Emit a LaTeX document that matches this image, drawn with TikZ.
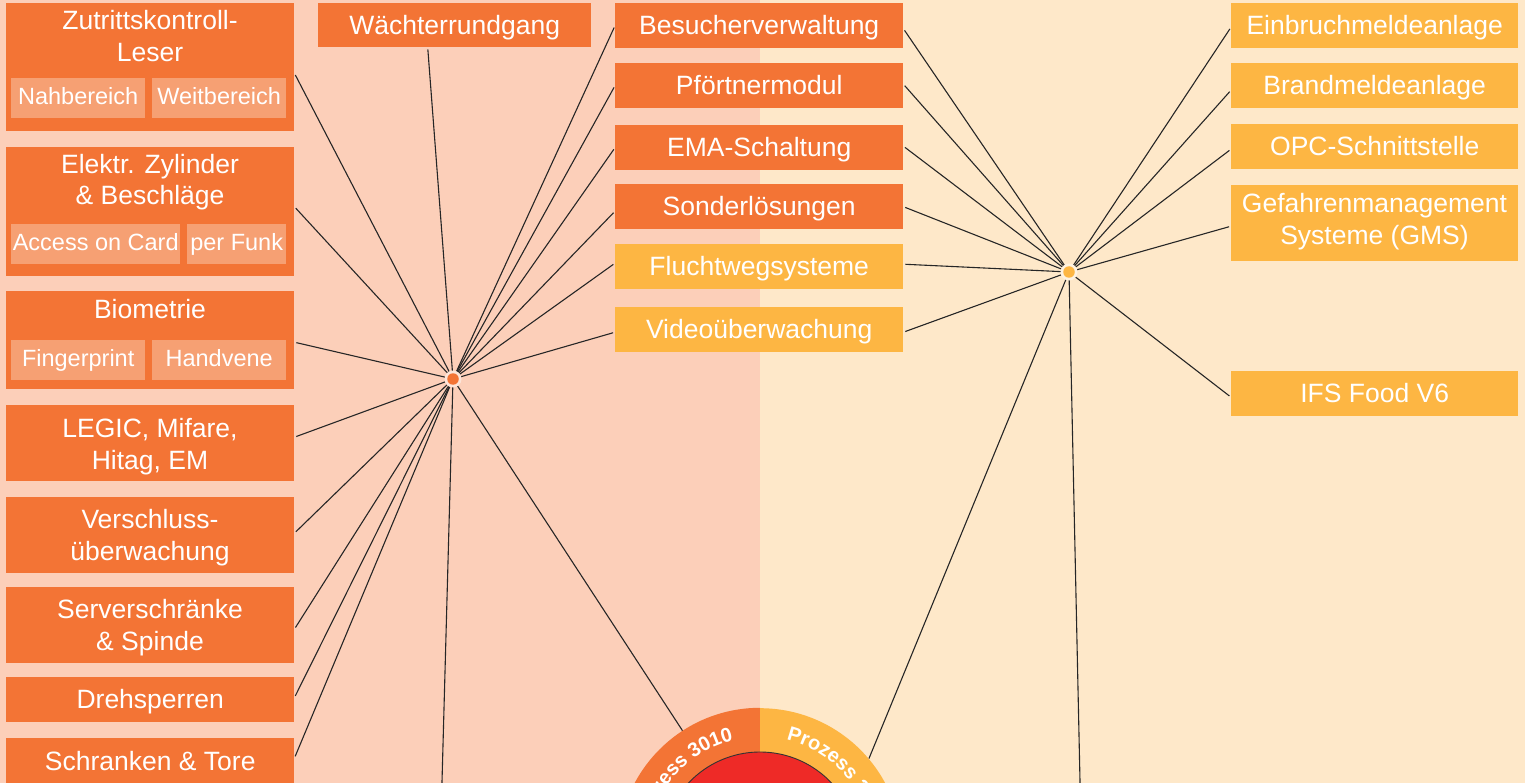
\documentclass[tikz,border=0pt]{standalone}
\usepackage{fontspec}
\setmainfont{Liberation Sans}
\usetikzlibrary{decorations.text,calc}
\definecolor{bgL}{HTML}{FCCFB9}
\definecolor{bgR}{HTML}{FEE8C9}
\definecolor{ora}{HTML}{F37435}
\definecolor{yel}{HTML}{FDB643}
\definecolor{subc}{HTML}{F6A073}
\definecolor{rd}{HTML}{EE2A27}
\tikzset{
  sz/.style 2 args={minimum width=#1pt, minimum height=#2pt},
  box/.style={anchor=north west, inner sep=0pt, text=white, align=center,
    font=\fontsize{26.5}{31.5}\selectfont, text height=18pt, text depth=0pt},
  obox/.style={box, fill=ora},
  ybox/.style={box, fill=yel},
  sbox/.style={anchor=north west, inner sep=0pt, fill=subc, text=white,
    font=\fontsize{23.5}{27}\selectfont, text height=17pt, text depth=5pt},
  ttl/.style={anchor=base, inner sep=0pt, text=white, font=\fontsize{26.5}{31.5}\selectfont},
  link/.style={draw=black!85, line width=1.1pt, shorten >=2pt},
  halo/.style={circle, inner sep=0pt, minimum size=17pt, draw=none},
  hub/.style={circle, inner sep=0pt, minimum size=11.5pt, draw=none}
}
\begin{document}
\begin{tikzpicture}[x=1pt,y=1pt]
\useasboundingbox (0,0) rectangle (1525,-783);
\clip (0,0) rectangle (1525,-783);
% backgrounds
\fill[bgL] (0,0) rectangle (760,-783);
\fill[bgR] (760,0) rectangle (1525,-783);

% left column
\node[obox, sz={288}{128}] (zk) at (6,-3) {};
\node[ttl] (zk1) at (150,-30) {Zutrittskontroll-};
\node[ttl] (zk2) at (150,-62) {Leser};
\node[sbox, sz={134}{40}] (zka) at (11,-78) {Nahbereich};
\node[sbox, sz={134}{40}] (zkb) at (152,-78) {Weitbereich};

\node[obox, sz={288}{129}] (ez) at (6,-147) {};
\node[ttl] (ez1) at (150,-174) {Elektr. Zylinder};
\node[ttl] (ez2) at (150,-205) {\& Beschläge};
\node[sbox, sz={169}{40}] (eza) at (11,-224) {Access on Card};
\node[sbox, sz={99}{40}] (ezb) at (187,-224) {per Funk};

\node[obox, sz={288}{98}] (bio) at (6,-291) {};
\node[ttl] (bio1) at (150,-319) {Biometrie};
\node[sbox, sz={134}{40}] (bioa) at (11,-340) {Fingerprint};
\node[sbox, sz={134}{40}] (biob) at (152,-340) {Handvene};

\node[obox, sz={288}{76}] (legic) at (6,-405) {};
\node[ttl] (legic1) at (150,-437) {LEGIC, Mifare,};
\node[ttl] (legic2) at (150,-469) {Hitag, EM};

\node[obox, sz={288}{76}] (vs) at (6,-497) {};
\node[ttl] (vs1) at (150,-528) {Verschluss-};
\node[ttl] (vs2) at (150,-560) {überwachung};

\node[obox, sz={288}{76}] (srv) at (6,-587) {};
\node[ttl] (srv1) at (150,-618) {Serverschränke};
\node[ttl] (srv2) at (150,-650) {\& Spinde};

\node[obox, sz={288}{45}] (dreh) at (6,-677) {Drehsperren};
\node[obox, sz={288}{46}] (schr) at (6,-738) {Schranken \& Tore};

% top / middle column
\node[obox, sz={273}{44}] (wr) at (318,-3) {Wächterrundgang};
\node[obox, sz={288}{45}] (bes) at (615,-3) {Besucherverwaltung};
\node[obox, sz={288}{45}] (pf) at (615,-63) {Pförtnermodul};
\node[obox, sz={288}{45}] (ema) at (615,-125) {EMA-Schaltung};
\node[obox, sz={288}{45}] (sond) at (615,-184) {Sonderlösungen};
\node[ybox, sz={288}{45}] (fl) at (615,-244) {Fluchtwegsysteme};
\node[ybox, sz={288}{45}] (vid) at (615,-307) {Videoüberwachung};

% right column
\node[ybox, sz={287}{45}] (einb) at (1231,-3) {Einbruchmeldeanlage};
\node[ybox, sz={287}{45}] (brand) at (1231,-63) {Brandmeldeanlage};
\node[ybox, sz={287}{45}] (opc) at (1231,-124) {OPC-Schnittstelle};
\node[ybox, sz={287}{76}] (gms) at (1231,-185) {};
\node[ttl] (gms1) at (1374.5,-213) {Gefahrenmanagement};
\node[ttl] (gms2) at (1374.5,-245) {Systeme (GMS)};
\node[ybox, sz={287}{45}] (ifs) at (1231,-371) {IFS Food V6};

% ring (placeholder node)
\node[circle, minimum size=284pt, inner sep=0pt] (ring) at (760,-850) {};

% hubs
\coordinate (ho) at (453,-379);
\coordinate (hy) at (1069,-272);
\coordinate (odown) at (441.5,-800);
\coordinate (ydown) at (1080.4,-800);

% orange hub links
\draw[link] (ho) -- ([yshift=-6pt]zk.east);
\draw[link] (ho) -- ([yshift=5pt]ez.east);
\draw[link] (ho) -- ([yshift=-2pt]bio.east);
\draw[link] (ho) -- ([yshift=6pt]legic.east);
\draw[link] (ho) -- ([yshift=2pt]vs.east);
\draw[link] (ho) -- ([yshift=-4pt]srv.east);
\draw[link] (ho) -- ([yshift=2pt]dreh.east);
\draw[link] (ho) -- ([yshift=3pt]schr.east);
\draw[link] (ho) -- ([xshift=-27pt]wr.south);
\draw[link] (ho) -- (bes.west);
\draw[link] (ho) -- (pf.west);
\draw[link] (ho) -- (ema.west);
\draw[link] (ho) -- ([yshift=-4.5pt]sond.west);
\draw[link] (ho) -- ([yshift=3.5pt]fl.west);
\draw[link] (ho) -- ([yshift=-2.5pt]vid.west);
\draw[link] (ho) -- (odown);
\draw[link, shorten >=0pt] (ho) -- (ring.123.6);

% yellow hub links
\draw[link] (hy) -- ([yshift=-3pt]bes.east);
\draw[link] (hy) -- ([yshift=1.5pt]pf.east);
\draw[link] (hy) -- ([yshift=1.5pt]ema.east);
\draw[link] (hy) -- (sond.east);
\draw[link] (hy) -- ([yshift=2.5pt]fl.east);
\draw[link] (hy) -- ([yshift=-2.5pt]vid.east);
\draw[link] (hy) -- ([yshift=-1.5pt]einb.west);
\draw[link] (hy) -- ([yshift=-4.5pt]brand.west);
\draw[link] (hy) -- ([yshift=-2.5pt]opc.west);
\draw[link] (hy) -- ([yshift=-3pt]gms.west);
\draw[link] (hy) -- ([yshift=-3.5pt]ifs.west);
\draw[link] (hy) -- (ydown);
\draw[link, shorten >=0pt] (hy) -- (ring.40.5);

\node[halo, fill=white!45!bgL] (hoHalo) at (ho) {};
\node[hub, fill=ora] (hoDot) at (ho) {};
\node[halo, fill=white!45!bgR] (hyHalo) at (hy) {};
\node[hub, fill=yel] (hyDot) at (hy) {};

% ring
\fill[ora] (ring.center) -- (ring.north) arc[start angle=90, end angle=270, radius=142pt] -- cycle;
\fill[yel] (ring.center) -- (ring.south) arc[start angle=-90, end angle=90, radius=142pt] -- cycle;
\fill[rd] (ring.center) circle[radius=98pt];
\draw[black!80, line width=0.9pt] ($(ring.center)+(40:98pt)$) arc[start angle=40, end angle=140, radius=98pt];

\path[decorate, decoration={text along path, text align=right, text color=white,
   text={|\fontsize{20}{20}\selectfont\bfseries|Prozess 3010}}]
   ($(ring.center)+(200:113pt)$) arc[start angle=200, end angle=103.5, radius=113pt];
\path[decorate, decoration={text along path, text align=left, text color=white,
   text={|\fontsize{20}{20}\selectfont\bfseries|Prozess 3}}]
   ($(ring.center)+(76.5:113pt)$) arc[start angle=76.5, end angle=-30, radius=113pt];
\end{tikzpicture}
\end{document}
